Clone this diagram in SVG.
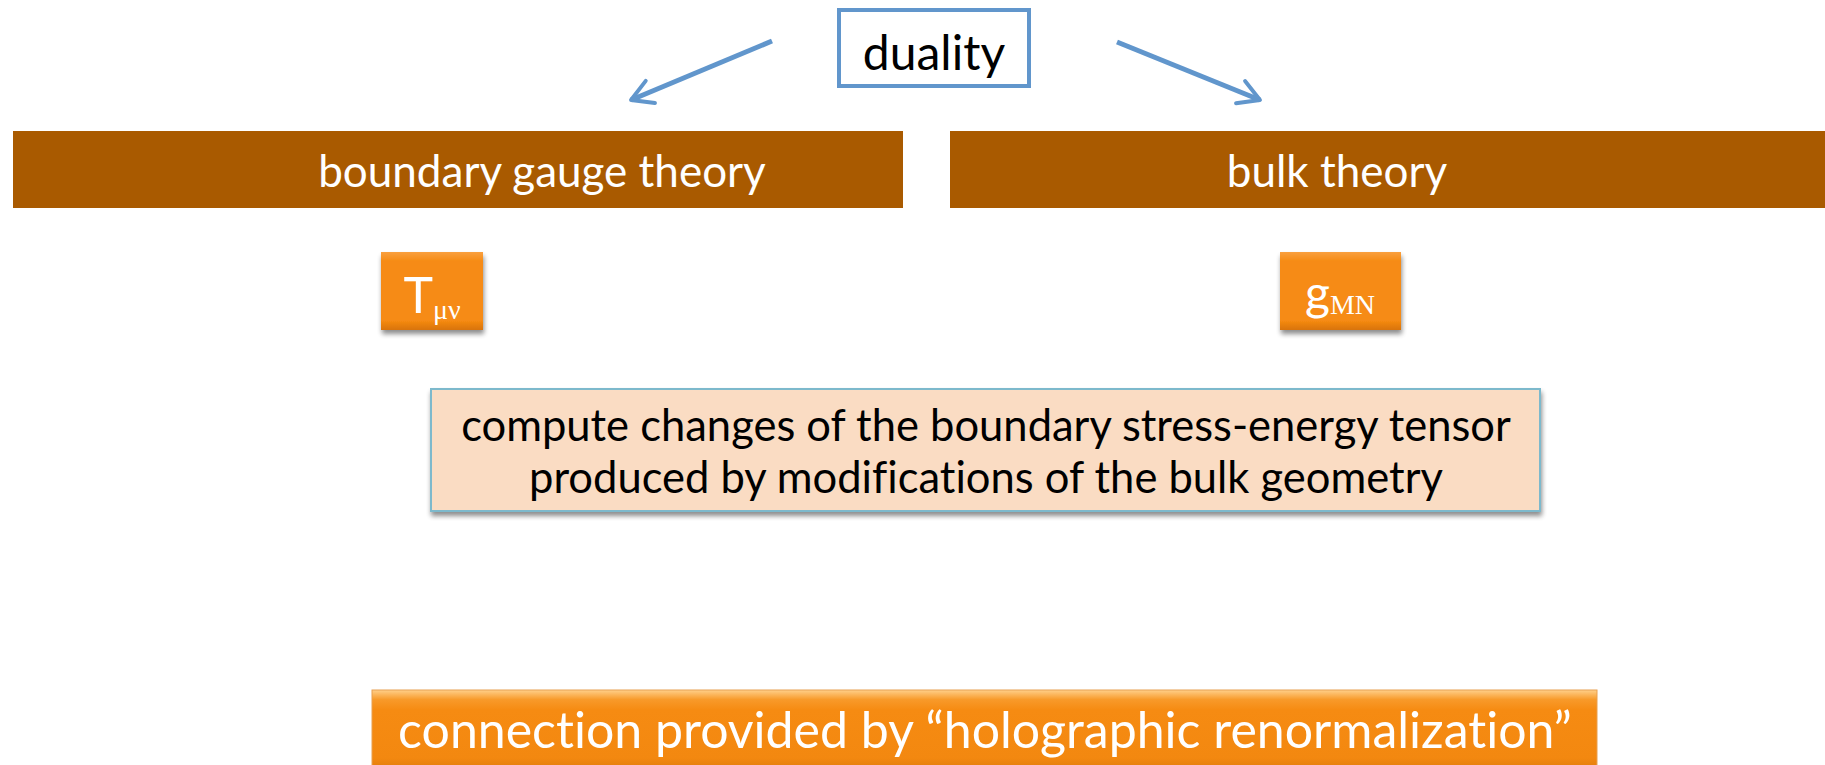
<svg xmlns="http://www.w3.org/2000/svg" width="1825" height="765" viewBox="0 0 1825 765">
<style>
.t{font-family:Lato,"Open Sans","Liberation Sans",sans-serif;font-variant-ligatures:none;}
.w{fill:#ffffff;}
.k{fill:#000000;}
.bar{fill:#A95A00;}
.conn{stroke:#6196CC;stroke-width:5;fill:none;marker-end:url(#ah);}
</style>
<defs>
<marker id="ah" viewBox="0 0 20 20" refX="17" refY="10" markerWidth="6" markerHeight="6" markerUnits="strokeWidth" orient="auto">
<path d="M3,2 L17,10 L3,18" fill="none" stroke="#6196CC" stroke-width="2.6" stroke-linecap="round" stroke-linejoin="round"/>
</marker>
<linearGradient id="og" x1="0" y1="0" x2="0" y2="1">
<stop offset="0" stop-color="#F9A040"/>
<stop offset="0.12" stop-color="#F68B12"/>
<stop offset="0.88" stop-color="#F68B12"/>
<stop offset="1" stop-color="#D8730A"/>
</linearGradient>
<linearGradient id="bg" x1="0" y1="0" x2="0" y2="1">
<stop offset="0" stop-color="#FFD08A"/>
<stop offset="0.12" stop-color="#F89A2A"/>
<stop offset="0.25" stop-color="#F68B12"/>
<stop offset="0.85" stop-color="#F38810"/>
<stop offset="1" stop-color="#E07C0C"/>
</linearGradient>
<filter id="sh" x="-10%" y="-10%" width="125%" height="135%">
<feGaussianBlur in="SourceAlpha" stdDeviation="2.5"/>
<feOffset dx="1" dy="4" result="b"/>
<feComponentTransfer><feFuncA type="linear" slope="0.45"/></feComponentTransfer>
<feMerge><feMergeNode/><feMergeNode in="SourceGraphic"/></feMerge>
</filter>
</defs>
<rect width="1825" height="765" fill="#ffffff"/>
<g id="connectors">
<line class="conn" x1="772" y1="41" x2="631" y2="100"/>
<line class="conn" x1="1117" y1="42" x2="1260" y2="100"/>
</g>
<g id="duality">
<rect x="839" y="10" width="190" height="76" fill="#ffffff" stroke="#6196CC" stroke-width="4"/>
<text class="t k" x="934" y="70" font-size="48" text-anchor="middle">duality</text>
</g>
<g id="boundary">
<rect class="bar" x="13" y="131" width="890" height="77"/>
<text class="t w" x="542" y="187" font-size="44" text-anchor="middle">boundary gauge theory</text>
</g>
<g id="bulk">
<rect class="bar" x="950" y="131" width="875" height="77"/>
<text class="t w" x="1337" y="187" font-size="44" text-anchor="middle">bulk theory</text>
</g>
<g id="tmunu">
<rect x="381" y="252" width="102" height="78" fill="url(#og)" filter="url(#sh)"/>
<text x="432" y="313" text-anchor="middle" class="w"><tspan class="t" font-size="50">T</tspan><tspan font-family="'Liberation Serif',serif" font-size="28" dy="6">μν</tspan></text>
</g>
<g id="gmn">
<rect x="1280" y="252" width="121" height="78" fill="url(#og)" filter="url(#sh)"/>
<text x="1340" y="310" text-anchor="middle" class="w"><tspan class="t" font-size="48">g</tspan><tspan font-family="'Liberation Serif',serif" font-size="28" dy="4">MN</tspan></text>
</g>
<g id="compute">
<rect x="431" y="389" width="1109" height="122" fill="#FADCC3" stroke="#7DB9CC" stroke-width="2" filter="url(#sh)"/>
<text class="t k" x="986" y="441" font-size="43.5" text-anchor="middle">compute changes of the boundary stress-energy tensor</text>
<text class="t k" x="986" y="493" font-size="43.5" text-anchor="middle">produced by modifications of the bulk geometry</text>
</g>
<g id="connection">
<rect x="372" y="690" width="1225" height="80" fill="url(#bg)" stroke="#E8A050" stroke-width="1"/>
<text class="t w" x="985" y="748" font-size="50" text-anchor="middle">connection provided by “holographic renormalization”</text>
</g>
</svg>
